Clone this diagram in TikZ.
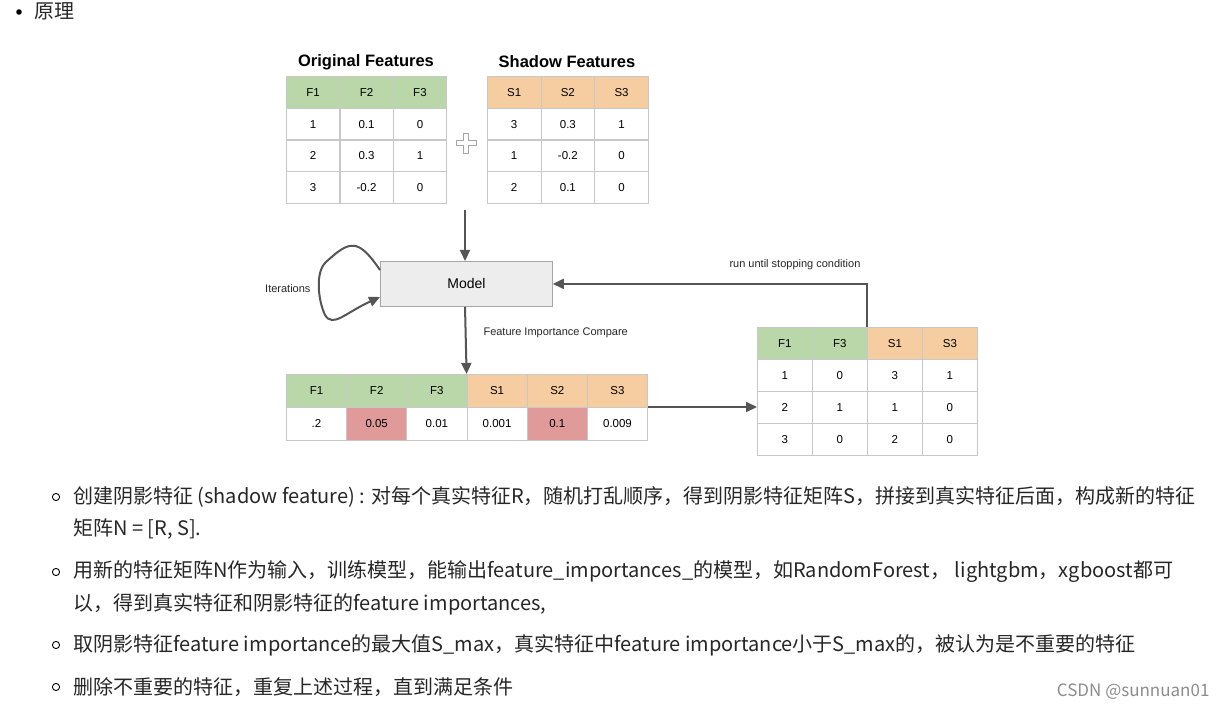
\documentclass[tikz,border=0pt]{standalone}
\usepackage{fontspec}
\setmainfont{Liberation Sans}
\newfontfamily\cjk{Noto Sans CJK SC}
\usetikzlibrary{arrows.meta}
\definecolor{gr}{HTML}{B9D7A8}
\definecolor{og}{HTML}{F5CDA0}
\definecolor{rd}{HTML}{E09A9A}
\definecolor{bd}{HTML}{C8C8C8}
\definecolor{ar}{HTML}{555555}
\tikzset{
 cell/.style={draw=bd,line width=0.8pt,minimum width=#1,minimum height=31.5pt,inner sep=0pt,font=\fontsize{11.5}{13}\selectfont,anchor=north west},
 cell/.default=53.5pt,
 arr/.style={draw=ar,line width=2pt,-{Triangle[length=11pt,width=10pt]}},
 lbl/.style={font=\fontsize{11}{13}\selectfont,text=black!85},
 cn/.style={font=\cjk\fontsize{20}{24}\selectfont,anchor=west,text=black!85,inner sep=0pt}
}
\begin{document}
\begin{tikzpicture}[x=1pt,y=-1pt]
\useasboundingbox (0,0) rectangle (1225,711);
% top bullet
\fill (19,12) circle (2.8pt);
\node[cn] (yl) at (34,11) {原理};
% Original features
\node[font=\bfseries\fontsize{16.5}{19}\selectfont] (ot) at (366,62) {Original Features};
\node[font=\bfseries\fontsize{16.5}{19}\selectfont] (st) at (567,62) {Shadow Features};
\foreach \t [count=\i from 0] in {F1,F2,F3}
  \node[cell,fill=gr,minimum height=32pt] (oh\i) at (286+\i*53.4,76) {\t};
\foreach \a/\b/\c [count=\r from 0] in {1/0.1/0,2/0.3/1,3/-0.2/0}{
  \node[cell] (o\r a) at (286,108+\r*31.7) {\a};
  \node[cell] (o\r b) at (339.4,108+\r*31.7) {\b};
  \node[cell] (o\r c) at (392.8,108+\r*31.7) {\c};}
\foreach \t [count=\i from 0] in {S1,S2,S3}
  \node[cell,fill=og,minimum height=32pt] (sh\i) at (487+\i*53.7,76) {\t};
\foreach \a/\b/\c [count=\r from 0] in {3/0.3/1,1/-0.2/0,2/0.1/0}{
  \node[cell] (s\r a) at (487,108+\r*31.7) {\a};
  \node[cell] (s\r b) at (540.7,108+\r*31.7) {\b};
  \node[cell] (s\r c) at (594.4,108+\r*31.7) {\c};}
% plus
\draw[draw=gray!70,line width=0.8pt,fill=white] (463.5,133)--(468.5,133)--(468.5,140.5)--(476,140.5)--(476,145.5)--(468.5,145.5)--(468.5,153)--(463.5,153)--(463.5,145.5)--(456,145.5)--(456,140.5)--(463.5,140.5)--cycle;
% model
\node[draw=gray!70,fill=gray!14,line width=0.8pt,minimum width=172pt,minimum height=45pt,anchor=north west,inner sep=0pt,font=\fontsize{14}{16}\selectfont] (model) at (380,261) {Model};
\coordinate (tin) at (465,210);
\draw[arr] (tin) -- (tin|-model.north);
\node[lbl,anchor=east] (it) at (314,289) {Iterations};
\coordinate (l1) at (380,270);
\coordinate (l2) at (380,297);
\draw[arr] (l1) .. controls (358,238) and (350,240) .. (326,262) .. controls (315,272) and (318,300) .. (325,315) .. controls (333,328) and (345,313) .. (l2);
% bottom table
\foreach \t/\c [count=\i from 0] in {F1/gr,F2/gr,F3/gr,S1/og,S2/og,S3/og}
  \node[cell=60.2pt,fill=\c,minimum height=33pt] (bh\i) at (286+\i*60.2,374) {\t};
\foreach \t/\c [count=\i from 0] in {.2/white,0.05/rd,0.01/white,0.001/white,0.1/rd,0.009/white}
  \node[cell=60.2pt,fill=\c,minimum height=33pt] (bv\i) at (286+\i*60.2,407) {\t};
\draw[arr] (model.south-|tin) -- (bh3.north west);
\node[lbl,anchor=west] (fic) at (480,333) {Feature Importance Compare};
% right table
\foreach \t/\c [count=\i from 0] in {F1/gr,F3/gr,S1/og,S3/og}
  \node[cell=55pt,fill=\c,minimum height=32pt] (rh\i) at (757+\i*55,327) {\t};
\foreach \a/\b/\c/\d [count=\r from 0] in {1/0/3/1,2/1/1/0,3/0/2/0}{
  \node[cell=55pt,minimum height=32pt] (r\r a) at (757,359+\r*32) {\a};
  \node[cell=55pt,minimum height=32pt] (r\r b) at (812,359+\r*32) {\b};
  \node[cell=55pt,minimum height=32pt] (r\r c) at (867,359+\r*32) {\c};
  \node[cell=55pt,minimum height=32pt] (r\r d) at (922,359+\r*32) {\d};}
\draw[arr] (bv5.north east) -- (r1a.west|-bv5.north east);
\draw[arr] (rh2.north west) |- (model.east);
\node[lbl,anchor=west] (run) at (726,265) {run until stopping condition};
% text
\foreach \y in {497,572,645,687}
  \draw[line width=0.9pt] (56,\y) circle (3.6pt);
\node[cn] (t1) at (73,497) {创建阴影特征 (shadow feature) : 对每个真实特征R，随机打乱顺序，得到阴影特征矩阵S，拼接到真实特征后面，构成新的特征};
\node[cn] (t2) at (73,529) {矩阵N = [R, S].};
\node[cn] (t3) at (73,572) {用新的特征矩阵N作为输入，训练模型，能输出feature\_importances\_的模型，如RandomForest， lightgbm，xgboost都可};
\node[cn] (t4) at (73,604) {以，得到真实特征和阴影特征的feature importances,};
\node[cn] (t5) at (73,645) {取阴影特征feature importance的最大值S\_max，真实特征中feature importance小于S\_max的，被认为是不重要的特征};
\node[cn] (t6) at (73,687) {删除不重要的特征，重复上述过程，直到满足条件};
\node[font=\cjk\fontsize{17}{20}\selectfont,text=black!45,anchor=east] (wm) at (1213,692) {CSDN @sunnuan01};
\end{tikzpicture}
\end{document}
